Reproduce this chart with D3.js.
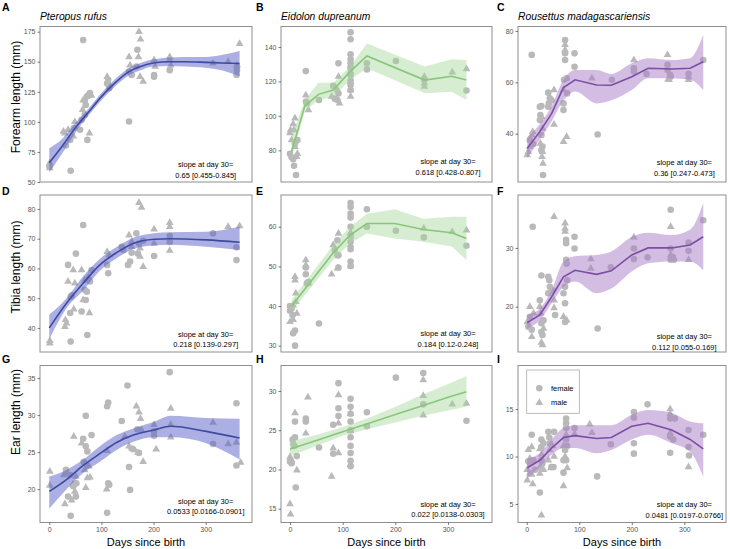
<!DOCTYPE html>
<html>
<head>
<meta charset="utf-8">
<script src="https://cdn.jsdelivr.net/npm/d3@7"></script>
<style>
  body { margin: 0; background: #fff; }
  text { font-family: "Liberation Sans", Arial, Helvetica, sans-serif; }
</style>
</head>
<body>
<svg id="chart" width="730" height="549"></svg>
<script>
// points are [days, length (mm), sex] with sex 0 = female (circle), 1 = male (triangle)
// fits are [days, fit, lower, upper]

const species = ["Pteropus rufus", "Eidolon dupreanum", "Rousettus madagascariensis"];
const measures = ["Forearm length (mm)", "Tibia length (mm)", "Ear length (mm)"];
const letters = ["A", "B", "C", "D", "E", "F", "G", "H", "I"];
const sexLabels = ["female", "male"];

const slopes = [
  "0.65 [0.455-0.845]", "0.618 [0.428-0.807]", "0.36 [0.247-0.473]",
  "0.218 [0.139-0.297]", "0.184 [0.12-0.248]", "0.112 [0.055-0.169]",
  "0.0533 [0.0166-0.0901]", "0.022 [0.0138-0.0303]", "0.0481 [0.0197-0.0766]"
];

const yTicks = [
  [50, 75, 100, 125, 150, 175], [80, 100, 120, 140], [40, 60, 80],
  [40, 50, 60, 70, 80], [30, 40, 50, 60], [20, 30],
  [20, 25, 30, 35], [15, 20, 25, 30], [5, 10, 15]
];
const xTicks = [0, 100, 200, 300];

const forearmRufus = [
  [0,63,0],[1,65.8,1],[1,61.6,1],[41,59.4,0],[30,90.6,1],[32,80.4,0],[36,93.4,1],[40,85,0],[46,88,1],
  [47,94.8,0],[49,100,1],[59,93.4,0],[62,101.7,0],[64,110,1],[68,105.8,0],[73,85,0],[77,90.6,1],
  [68,118,0],[72,121,0],[75,122,0],[78,124,0],[65,118,1],[81,122,1],[70,114,0],[65,168,0],[27,92,1],
  [113,135,0],[115,128,0],[111,137.6,1],[116,130.7,1],[111,132,0],
  [153,100.3,0],[153,154,1],[155,147,1],[153,141.8,0],[158,139,0],[169,160,0],[172,175,1],[175,168.6,1],
  [171,154,1],[174,137.6,1],[180,133.5,1],[167,146,0],
  [201,151.5,1],[201,139,0],[203,146,1],[201,137.6,0],
  [231,154,1],[231,151.5,1],[231,143,0],[233,147,1],
  [314,148.7,1],[343,150,1],
  [359,139,0],[360,143,0],[360,147,1],[365,165,1],[360,146,0]
];
const forearmDupreanum = [
  [0,78,0],[6,74.8,0],[7.6,71,0],[11.4,65.7,0],[3,76,0],[0,90,1],[1,91.8,1],[6,95.3,1],[9.5,98.6,1],
  [3,86,1],[9.5,82,1],[14,78,1],[12.6,76.3,1],[7.6,91.8,1],[9.5,84,0],[14,86,0],
  [30,126,0],[30,112,1],[35,103.4,1],[30.4,108.3,0],[32,107.3,0],
  [55,109.2,0],
  [79,111.2,1],[82,117.4,0],[92,130.5,0],[92,122.8,1],[92,113,0],[90,109.2,0],[90,115,1],[94,107.3,1],[85,110,0],
  [115,148.5,0],[115,144.5,0],[115,135.8,0],[115,132.9,0],[115,130.5,0],[115,127.6,0],[115,123.8,0],
  [115,120.5,0],[115,118,0],[115,115,0],[115,125.7,1],[115,111.2,1],[115,115,1],[115,119.9,1],[115,129.6,1],
  [146,130.5,0],[146,127,0],
  [201,131.9,0],
  [255,122.8,1],[255,119,1],[255,117,1],[255,120.8,0],
  [308,125.3,1],
  [335,127.2,1],[335,114.7,0]
];
const forearmMadagascariensis = [
  [3,33,1],[6,35,1],[9.5,39.5,1],[11.4,40.8,1],[6,37.5,0],[9.5,70.7,0],[1,31.7,1],[12.7,36,0],
  [25,50.5,0],[28,50.8,0],[26,47.3,0],[25,45.3,0],[28,39.5,0],[30,35,0],[28,33.6,0],[31,23.9,0],
  [28,46.6,1],[30,42,1],[26,36.2,1],[29,31,1],[31,28.4,1],[30,33,1],
  [41,56,0],[44,53.8,0],[42,51.8,0],[52,57,1],[52,43.6,1],[47,53,0],[41,50.5,0],
  [73,76.5,0],[73,71.3,0],[73,68.7,0],[70,51.8,0],[70,49.2,0],[71,61,0],[73,74.6,1],[73,72.6,1],
  [70,57,1],[70,36.9,1],[76,38.8,1],[77,55.7,0],[76,61.6,0],
  [91,71.3,0],[91,66.1,0],
  [124,61.6,1],[135,39.7,0],
  [162,61,0],
  [204,68.7,1],[204,65.5,0],[204,64.2,0],
  [228,63.3,0],
  [268,70.7,1],[269,61.2,1],[268,66.8,0],[268,64.8,0],[273,62.9,0],[274,62.2,0],[271,61,1],
  [308,62.2,1],[308,61,1],[308,63.3,0],
  [336,68.7,0]
];
const tibiaRufus = [
  [1,35.7,1],[1,34.8,1],
  [36,61.2,0],[41,35.4,0],[36,55.6,1],[31,42.7,1],[33,41.6,1],[30,40.4,1],[43,51,0],[40,45,0],
  [46,59.5,1],[49,55,1],[51,65,0],[47,46.3,1],[41,50.5,0],
  [65,74.6,0],[62,45.5,0],[73,37.6,0],[62,59.5,1],[68,56,1],[73,56,1],[77,45,1],[72,52.2,0],
  [70,49.4,0],[65,49.4,1],[78,55.6,0],[81,59.5,0],[75,57.2,1],[68,52.8,0],
  [113,58.4,0],[111,61.2,0],[111,65.6,1],[115,64.5,1],
  [139,67.3,0],[142,66.2,0],[151,61.2,0],[155,62.3,0],[158,65.3,0],[167,71.8,0],[172,68.4,0],
  [170,65,0],[180,69.3,0],[153,71.2,1],[158,67.3,1],[172,82.1,1],[177,80.5,1],[174,66.8,1],
  [174,64,1],[180,60.6,1],[158,69,1],
  [201,64.2,0],[201,73.2,1],[201,68.4,1],
  [231,75.4,1],[231,74,1],[231,66,1],[231,70.9,0],[231,68.9,0],
  [314,71.8,0],[343,74,1],
  [359,67.1,0],[359,62.8,0],[365,74.3,1]
];
const tibiaDupreanum = [
  [0,40,0],[0,38.8,0],[3,39.4,0],[6,33.1,0],[9.5,33.8,0],[9.5,30,0],[5,37.7,0],[0,36,1],[6,40.2,1],
  [9.5,46.5,1],[9.5,47.4,1],[11,43.2,1],[11,41.1,1],[13,38.1,1],[6,36.5,1],
  [30,51.6,1],[30,50.3,1],[30,49.7,0],[30,48,0],[32,45.7,0],[35,46.1,0],[35,45.7,1],
  [55,35.6,0],
  [79,48,1],[82,55.4,1],[92,58.3,1],[90,52.8,0],[90,56.6,0],[92,49.7,0],[92,52.8,0],[90,49.5,1],[85,54.1,0],
  [115,66,0],[115,65,0],[115,63.3,0],[115,62.3,0],[115,60,0],[115,57.9,0],[115,56.2,0],[115,54.3,0],
  [115,51.2,0],[115,50.1,0],[115,58.5,1],[115,55.4,1],[115,50.1,1],[115,57.5,1],
  [146,64.4,0],[146,60,0],
  [201,59,0],
  [254,59.6,1],[254,57.3,0],
  [308,58.7,1],
  [335,59.1,1],[335,55.2,0]
];
const tibiaMadagascariensis = [
  [1,17.4,1],[6,20,1],[9.5,14.9,1],[6,18.3,0],[9.5,16.1,0],[11.4,33.6,0],[3,16.6,0],[13,18.9,1],
  [28,25.3,0],[25,21.1,0],[28,17.2,0],[28,15.7,0],[30,15.2,0],[25,20,1],[27,18.9,1],[28,13.9,1],
  [30,13.5,1],[32,16.3,1],[32,17.7,0],
  [41,25.1,0],[43,24.5,0],[44,23.4,0],[41,22.3,0],[52,35.3,1],[52,21.1,1],[52,19.8,1],[49,22.8,0],[54,18.6,0],
  [73,34.2,1],[73,33.3,1],[73,32.8,1],[70,18.3,1],[76,17.7,1],[75,31.4,0],[75,30.8,0],[75,28,0],
  [76,27.3,0],[70,22.3,0],[73,20.6,0],[73,23.4,0],[77,24.5,0],[91,31.9,0],[91,29.9,0],[73,17.4,0],
  [122,28.1,1],[122,26.5,1],[135,16.3,0],
  [160,26.7,0],
  [204,31.8,1],[204,29.9,0],[204,28.1,0],
  [230,28.4,0],
  [274,36.5,0],[274,33.6,1],[274,29.9,0],[274,28,0],[278,28.5,0],[280,28,0],[274,28.8,1],
  [308,30.9,0],[308,29.5,0],[308,28,1],
  [336,34.7,0]
];
const earRufus = [
  [1,22.4,1],[1,20.5,1],
  [28,21.9,1],[33,22.2,1],[30,18,1],[43,18.5,1],[47,27.1,1],[49,19.7,1],[51,21.7,1],[45,20.6,1],
  [32,22.6,0],[36,19,0],[41,16.4,0],[40,21.9,0],[51,19,0],[52,20.8,0],[46,20.4,0],
  [65,26.8,0],[70,29.9,0],[66,23.7,0],[70,25.8,0],[73,25.1,0],[81,27.3,0],[73,23.2,0],[62,26.2,1],
  [68,22.6,1],[73,21.5,1],[78,21.6,1],[70,20.2,1],[76,23.1,1],
  [113,31.7,0],[111,31.2,0],[113,20.8,0],[111,16.8,0],[115,20.6,0],[110,20,1],[111,25.2,1],
  [139,29.2,0],[150,34,0],[153,23,0],[155,19.9,0],[158,25.5,0],[169,28.1,0],[172,24.9,0],[145,27.1,1],
  [153,25.8,1],[167,31.2,1],[172,30.4,1],[175,29.5,1],[170,24.9,1],[177,28,1],[180,23.7,1],[164,25.3,1],
  [201,27.8,0],[201,27.2,0],[201,28.7,1],[205,25.4,1],
  [231,35.8,0],[233,30.9,1],[233,28.7,1],[233,27,1],
  [314,29,1],[314,26.1,0],[343,26.1,1],
  [359,31.6,0],[359,23.2,0],[359,26.3,1],[367,23.6,1]
];
const earDupreanum = [
  [0,15.6,1],[1,14.3,1],[0,21.6,1],[3,21.2,1],[6,23.4,1],[9.5,27.2,1],[13,19.9,1],[9.5,23.1,1],
  [0,21,0],[3,20.8,0],[9.5,26.1,0],[9.5,24.1,0],[11,17.7,0],[13,21.7,0],[7.6,23,0],[5,23.8,0],
  [34,29.2,1],[30,24.6,1],[30,26.5,0],[30,26.1,0],
  [55,22.8,0],
  [79,19.1,1],[82,22.7,1],[92,29.5,1],[92,22.1,1],[92,25.9,1],[82,25.7,0],[92,31,0],[92,27.8,0],
  [92,26.8,0],[82,22,0],
  [115,29,0],[115,28,0],[115,27.1,0],[115,26.1,0],[115,25,0],[115,24.1,0],[115,23,0],[115,22.1,0],
  [115,21.1,0],[115,20.4,0],[115,27.1,1],[115,24.9,1],[115,20.6,1],
  [146,27.3,0],[146,25.5,0],
  [201,31.7,0],
  [253,32.3,0],[253,31.4,1],[253,29.4,1],[253,26.9,1],[253,28.3,0],
  [308,28.3,1],
  [335,28.4,1],[335,26.2,0]
];
const earMadagascariensis = [
  [1,8.6,1],[1,7.5,1],[3,10.7,1],[6,9.8,1],[9.5,11,1],[9.5,8.1,1],[11.4,7.1,1],[6,8.2,1],[9.5,12.3,0],
  [6,9.3,0],[12.7,9.6,0],[16,8.6,0],[3,9.5,0],
  [25,6.2,0],[28,11.8,0],[28,11,0],[28,9.6,0],[30,9.3,0],[27,8.8,0],[25,8.2,1],[28,3.8,1],[28,10.2,1],
  [32,8.6,1],[25,10.8,1],[32,11.4,0],
  [41,12.6,0],[44,11.4,0],[47,8.9,0],[51,8.9,0],[52,12.6,0],[41,9.6,1],[44,10.7,1],[49,11.1,1],
  [52,10,1],[46,8.8,1],[43,12,0],
  [75,14,0],[75,13.5,0],[75,13,0],[75,11.8,0],[73,10.7,0],[70,9.6,0],[70,8.3,0],[77,11.1,0],[75,9.6,0],
  [75,13.2,1],[75,12.3,1],[70,6.9,1],[73,10,1],[77,8.8,1],[70,11.1,1],
  [91,13,0],[91,12.4,1],
  [120,13.4,1],[124,12.5,1],[134,7.9,0],
  [160,11.3,0],
  [204,14.7,0],[204,14.1,0],[204,11.4,0],[204,10.3,0],
  [230,15.5,0],
  [273,15,1],[273,14.5,1],[273,12.5,1],[273,14,0],[273,12.1,0],[273,10.4,0],[279,11.8,0],[282,14,0],
  [308,12.8,0],[308,11,0],[309,10.1,0],[308,8.9,1],
  [336,12.3,0]
];

const fitForearmRufus = [
  [0,66,58,78],[25,80,74,86],[50,95,91,99],[75,108,105,111],[100,121,118,124],[125,132,129,135],
  [150,141,138,144],[175,146,143,149],[200,149,146,152],[230,150,146.5,153.5],[260,150,146,154],
  [300,149.5,145,154],[330,149,143,155.5],[365,148.5,138,159]
];
const fitForearmDupreanum = [
  [3,79.2,75.5,88],[28,105.7,102.5,109.2],[54,112.5,109.2,119.3],[82,115,111,119.3],[114,125.7,120.8,128.6],
  [146,134.8,127.6,142.1],[256,120.8,113.1,128.6],[307,123,114,132.9],[335,120.8,109.2,132.5]
];
const fitForearmMadagascariensis = [
  [1,34.3,30.5,38.5],[25,40.8,37.8,43.8],[47.5,47.9,44.9,50.9],[70,58,53,61],[92,61,56.4,64.8],
  [133,59,51.8,64.8],[161,58.9,53,63.3],[200,62.2,57,67.4],[231,65.5,61.6,69.4],[276,65.2,61.6,68.7],
  [311,65.5,61,69.4],[336,68,57,78.5]
];
const fitTibiaRufus = [
  [0,40,36.2,44.4],[33,48.3,46.6,50],[65,55,52.6,57.4],[97,61.2,59.2,63.2],[129,65.3,63.4,67.2],
  [161,68.4,66.5,70.3],[201,69.8,67.8,71.8],[231,70,68,72.2],[301,69.6,67.3,72.3],[365,68.8,66.2,74]
];
const fitTibiaDupreanum = [
  [3,40,38.6,41.5],[82,53.4,51.6,55.4],[114,57.9,55.8,60],[146,60.8,58.3,63.3],[199,60.8,57,64.4],
  [253,59.3,56.2,62],[307,58.5,55,62.5],[335,57,51.6,62.5]
];
const fitTibiaMadagascariensis = [
  [1,17.3,16.3,18.6],[25,18.6,17.7,19.7],[47.5,21.7,20.6,22.8],[70,25.1,23.4,27.7],[92,26.2,24.3,28.6],
  [133,25.5,22.3,28.8],[161,26.1,23.1,29.4],[200,28.8,26,31.9],[231,30,27.4,32.6],[276,30,27.7,32.2],
  [311,30.5,27.7,33.1],[336,31.9,26.2,37.6]
];
const fitEarRufus = [
  [0,19.7,17.4,21.7],[33,21.3,20,22.6],[65,23.2,22.2,24],[97,24.8,23.7,25.8],[129,26.3,25.3,27.3],
  [161,27.3,26.4,28.2],[201,28,27,29.1],[233,28.5,27,29.9],[301,27.8,26.2,29.6],[365,26.9,24,29.5]
];
const fitEarDupreanum = [
  [0,22.6,21.7,23.6],[50,23.7,23,24.4],[100,24.8,24.3,25.4],[150,25.9,25.2,26.6],[200,27,26,28],
  [250,28.1,26.8,29.5],[300,29.2,27.5,30.9],[335,29.9,28,31.9]
];
const fitEarMadagascariensis = [
  [1,8.8,7.7,9.8],[25,9.6,8.9,10.35],[47.5,10.9,10.2,11.8],[70,12,10.9,13],[92,12.2,10.9,13.3],
  [133,11.9,10.35,13.3],[161,12,10.7,13.3],[200,13.2,11.8,14.4],[231,13.5,12.3,14.9],[276,12.8,11.4,14.6],
  [311,11.8,10.5,13.7],[336,10.8,7.9,13.5]
];

const pointSets = [
  forearmRufus, forearmDupreanum, forearmMadagascariensis,
  tibiaRufus, tibiaDupreanum, tibiaMadagascariensis,
  earRufus, earDupreanum, earMadagascariensis
];
const fitSets = [
  fitForearmRufus, fitForearmDupreanum, fitForearmMadagascariensis,
  fitTibiaRufus, fitTibiaDupreanum, fitTibiaMadagascariensis,
  fitEarRufus, fitEarDupreanum, fitEarMadagascariensis
];

// layout
const colX = [[40, 252], [281, 492], [518, 726]];
const rowY = [[26.5, 182], [195, 352], [365.5, 522.5]];
const colDays = [[-17.8, 388.8], [-17.1, 383.5], [-16.6, 379.3]];
const yDomains = [
  [50, 179.3], [61.6, 151.9], [21.2, 81.75],
  [31.9, 84.7], [28.4, 68], [12.3, 39],
  [15.5, 36.7], [13.24, 33.25], [3.04, 19.6]
];
// distance of the two slope lines from the panel bottom
const annotOffset = [
  [17.3, 6.6], [20.3, 9.7], [19.7, 8.7],
  [18, 7.7], [18.7, 7.7], [16, 4.3],
  [21.5, 10.8], [18.5, 7.8], [18.5, 7.5]
];
const lineColor = ["#3c4aa0", "#88c67b", "#7c4ea3"];
const ribbonColor = ["#5a5fc8", "#a6d69b", "#a77cc8"];
const ribbonOpacity = [0.5, 0.45, 0.5];
const pointColor = "#b9b9b9";
const measureLabelY = [97, 267, 412];

const svg = d3.select("#chart");

const circlePath = d3.symbol().type(d3.symbolCircle).size(Math.PI * 3.3 * 3.3)();
const trianglePath = d3.symbol().type(d3.symbolTriangle).size(26)();

d3.range(9).forEach(i => {
  const row = Math.floor(i / 3), col = i % 3;
  const [x0, x1] = colX[col], [y0, y1] = rowY[row];
  const x = d3.scaleLinear().domain(colDays[col]).range([x0, x1]);
  const y = d3.scaleLinear().domain(yDomains[i]).range([y1, y0]);
  const g = svg.append("g");

  g.selectAll(".pt")
    .data(pointSets[i])
    .join("path")
    .attr("class", "pt")
    .attr("transform", d => `translate(${x(d[0])},${y(d[1])})`)
    .attr("d", d => d[2] ? trianglePath : circlePath)
    .attr("fill", pointColor);

  const smooth = col === 0 || col === 2;
  const area = d3.area()
    .x(d => x(d[0]))
    .y0(d => y(d[2]))
    .y1(d => y(d[3]))
    .curve(smooth ? d3.curveMonotoneX : d3.curveLinear);
  g.append("path")
    .attr("d", area(fitSets[i]))
    .attr("fill", ribbonColor[col])
    .attr("opacity", ribbonOpacity[col]);

  const line = d3.line()
    .x(d => x(d[0]))
    .y(d => y(d[1]))
    .curve(col === 0 ? d3.curveMonotoneX : d3.curveLinear);
  g.append("path")
    .attr("d", line(fitSets[i]))
    .attr("fill", "none")
    .attr("stroke", lineColor[col])
    .attr("stroke-width", 1.6);

  g.append("rect")
    .attr("x", x0).attr("y", y0)
    .attr("width", x1 - x0).attr("height", y1 - y0)
    .attr("fill", "none")
    .attr("stroke", "#8e8e8e")
    .attr("stroke-width", 1);

  const yAxis = g.append("g")
    .attr("transform", `translate(${x0},0)`)
    .call(d3.axisLeft(y).tickValues(yTicks[i]).tickSize(2.5).tickPadding(2));
  yAxis.select(".domain").remove();
  yAxis.selectAll("line").attr("stroke", "#444").attr("stroke-width", 0.7);
  yAxis.selectAll("text").attr("fill", "#555").attr("font-size", 7).attr("font-family", null);

  if (row === 2) {
    const xAxis = g.append("g")
      .attr("transform", `translate(0,${y1})`)
      .call(d3.axisBottom(x).tickValues(xTicks).tickSize(2.5).tickPadding(2.5));
    xAxis.select(".domain").remove();
    xAxis.selectAll("line").attr("stroke", "#444").attr("stroke-width", 0.7);
    xAxis.selectAll("text").attr("fill", "#555").attr("font-size", 7).attr("font-family", null);

    g.append("text")
      .attr("x", (x0 + x1) / 2).attr("y", 545.5)
      .attr("text-anchor", "middle")
      .attr("font-size", 11)
      .text("Days since birth");
  }

  // slope annotation, centred on day 300
  const ax = x(300);
  g.append("text")
    .attr("x", ax).attr("y", y1 - annotOffset[i][0] + 2.6)
    .attr("text-anchor", "middle").attr("font-size", 7.5)
    .text("slope at day 30=");
  g.append("text")
    .attr("x", ax).attr("y", y1 - annotOffset[i][1] + 2.6)
    .attr("text-anchor", "middle").attr("font-size", 7.5)
    .text(slopes[i]);

  // panel letter
  g.append("text")
    .attr("x", col === 0 ? 2 : col === 1 ? 256 : 497)
    .attr("y", row === 0 ? 10.5 : row === 1 ? 195 : 363)
    .attr("font-size", 10.5).attr("font-weight", "bold")
    .text(letters[i]);

  if (row === 0) {
    g.append("text")
      .attr("x", x0).attr("y", 19.5)
      .attr("font-size", 10.3).attr("font-style", "italic")
      .text(species[col]);
  }
  if (col === 0) {
    g.append("text")
      .attr("transform", `translate(20,${measureLabelY[row]}) rotate(-90)`)
      .attr("text-anchor", "middle")
      .attr("font-size", 12)
      .text(measures[row]);
  }
});

// legend inside panel I
const legend = svg.append("g").attr("transform", "translate(526.7,370)");
legend.append("rect")
  .attr("width", 52.6).attr("height", 43.3)
  .attr("fill", "#fff").attr("stroke", "#aaa").attr("stroke-width", 0.8);
sexLabels.forEach((s, k) => {
  legend.append("path")
    .attr("transform", `translate(12.6,${18.3 + k * 14.4})`)
    .attr("d", k ? trianglePath : circlePath)
    .attr("fill", pointColor);
  legend.append("text")
    .attr("x", 24.3).attr("y", 18.3 + k * 14.4 + 2.6)
    .attr("font-size", 7.5)
    .text(s);
});
</script>
</body>
</html>
